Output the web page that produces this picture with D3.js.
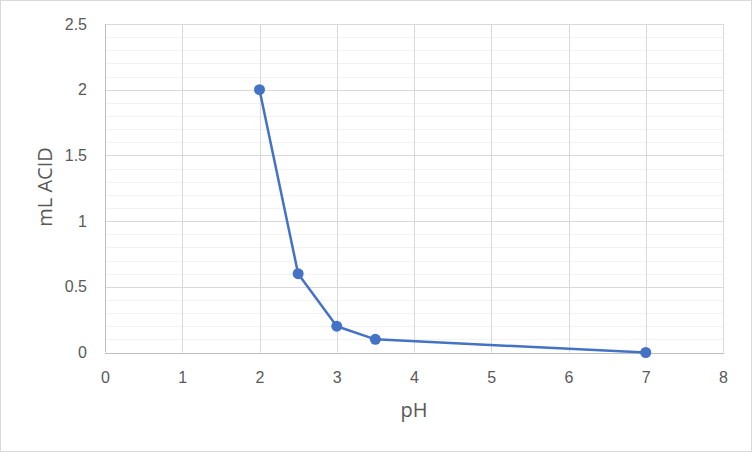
<!DOCTYPE html>
<html>
<head>
<meta charset="utf-8">
<script src="https://cdn.jsdelivr.net/npm/d3@7"></script>
<style>
  body { margin: 0; background: #fff; }
  svg { display: block; font-family: "Open Sans", "Liberation Sans", sans-serif; }
</style>
</head>
<body>
<div class="graph-container"></div>
<script>
// data
var phValues = [2, 2.5, 3, 3.5, 7];
var acidValues = [2, 0.6, 0.2, 0.1, 0];
var xTicks = [0, 1, 2, 3, 4, 5, 6, 7, 8];
var yTicks = [0, 0.5, 1, 1.5, 2, 2.5];

var svgWidth = 752;
var svgHeight = 452;
var plotLeft = 105;
var plotRight = 723;
var plotTop = 24;
var plotBottom = 352.5;

// snap to half pixel so 1px lines stay crisp
function crisp(v) { return Math.round(v) + 0.5; }

var svg = d3.select('.graph-container').append('svg')
  .attr('width', svgWidth)
  .attr('height', svgHeight);

// outer chart border
svg.append('rect')
  .attr('x', 0.5).attr('y', 0.5)
  .attr('width', svgWidth - 1).attr('height', svgHeight - 1)
  .attr('fill', '#fff')
  .attr('stroke', '#d9d9d9');

var xScale = d3.scaleLinear().domain([0, 8]).range([plotLeft, plotRight]);
var yScale = d3.scaleLinear().domain([0, 2.5]).range([plotBottom, plotTop]);

// minor horizontal gridlines every 0.1
var minorY = d3.range(0, 26).map(function(i) { return i / 10; })
  .filter(function(v, i) { return i % 5 !== 0; });
svg.append('g').selectAll('line')
  .data(minorY)
  .enter().append('line')
  .attr('x1', plotLeft).attr('x2', plotRight)
  .attr('y1', function(d) { return crisp(yScale(d)); })
  .attr('y2', function(d) { return crisp(yScale(d)); })
  .attr('stroke', '#f2f2f2')
  .attr('stroke-width', 1);

// major gridlines
svg.append('g').selectAll('line')
  .data(yTicks.slice(1))
  .enter().append('line')
  .attr('x1', plotLeft).attr('x2', plotRight)
  .attr('y1', function(d) { return crisp(yScale(d)); })
  .attr('y2', function(d) { return crisp(yScale(d)); })
  .attr('stroke', '#d9d9d9')
  .attr('stroke-width', 1);

svg.append('g').selectAll('line')
  .data(xTicks)
  .enter().append('line')
  .attr('x1', function(d) { return crisp(xScale(d)); })
  .attr('x2', function(d) { return crisp(xScale(d)); })
  .attr('y1', plotTop).attr('y2', plotBottom)
  .attr('stroke', function(d) { return d === 0 ? '#bfbfbf' : '#d9d9d9'; })
  .attr('stroke-width', 1);

// x axis line
svg.append('line')
  .attr('x1', plotLeft).attr('x2', plotRight + 1)
  .attr('y1', crisp(yScale(0))).attr('y2', crisp(yScale(0)))
  .attr('stroke', '#bfbfbf')
  .attr('stroke-width', 1);

// tick labels
var xAxis = d3.axisBottom(xScale).tickValues(xTicks).tickSize(0).tickPadding(19)
  .tickFormat(d3.format('d'));
svg.append('g')
  .attr('transform', 'translate(0,' + plotBottom + ')')
  .call(xAxis)
  .call(function(g) { g.select('.domain').remove(); })
  .selectAll('text')
  .attr('fill', '#595959')
  .style('font-size', '16px');

var yAxis = d3.axisLeft(yScale).tickValues(yTicks).tickSize(0).tickPadding(18)
  .tickFormat(function(d) { return String(d); });
svg.append('g')
  .attr('transform', 'translate(' + plotLeft + ',0)')
  .call(yAxis)
  .call(function(g) { g.select('.domain').remove(); })
  .selectAll('text')
  .attr('fill', '#595959')
  .style('font-size', '16px');

// series line
var points = phValues.map(function(x, i) { return [x, acidValues[i]]; });
var line = d3.line()
  .x(function(d) { return xScale(d[0]); })
  .y(function(d) { return yScale(d[1]); });

svg.append('path')
  .datum(points)
  .attr('d', line)
  .attr('fill', 'none')
  .attr('stroke', '#4472c4')
  .attr('stroke-width', 2.5)
  .attr('stroke-linejoin', 'round');

svg.append('g').selectAll('circle')
  .data(points)
  .enter().append('circle')
  .attr('cx', function(d) { return xScale(d[0]); })
  .attr('cy', function(d) { return yScale(d[1]); })
  .attr('r', 5.5)
  .attr('fill', '#4472c4');

// axis titles
svg.append('text')
  .attr('x', (plotLeft + plotRight) / 2)
  .attr('y', 417)
  .style('text-anchor', 'middle')
  .style('font-size', '20px')
  .attr('fill', '#595959')
  .text('pH');

svg.append('text')
  .attr('transform', 'translate(52,' + 187 + ') rotate(-90)')
  .style('text-anchor', 'middle')
  .style('font-size', '20px')
  .attr('fill', '#595959')
  .text('mL ACID');
</script>
</body>
</html>
